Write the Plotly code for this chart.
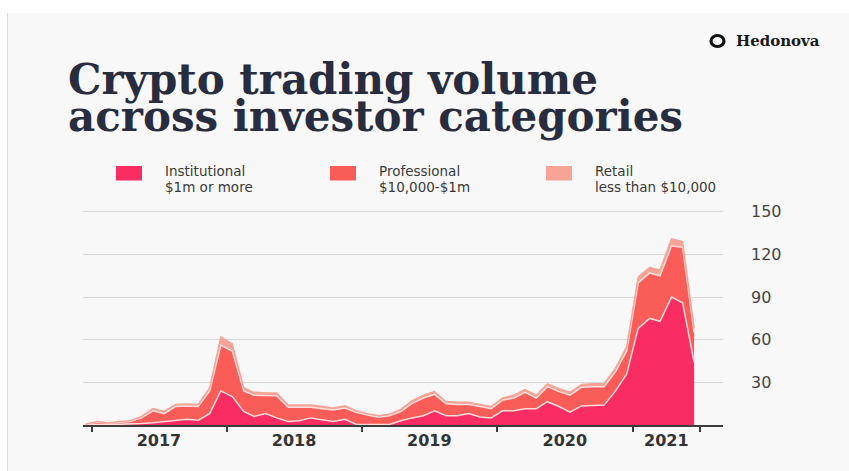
import plotly.graph_objects as go

# ---- data (monthly, billions) ----
months = [
    "2016-12-15",
    "2017-01-15", "2017-02-15", "2017-03-15", "2017-04-15", "2017-05-15", "2017-06-15",
    "2017-07-15", "2017-08-15", "2017-09-15", "2017-10-15", "2017-11-15", "2017-12-15",
    "2018-01-15", "2018-02-15", "2018-03-15", "2018-04-15", "2018-05-15", "2018-06-15",
    "2018-07-15", "2018-08-15", "2018-09-15", "2018-10-15", "2018-11-15", "2018-12-15",
    "2019-01-15", "2019-02-15", "2019-03-15", "2019-04-15", "2019-05-15", "2019-06-15",
    "2019-07-15", "2019-08-15", "2019-09-15", "2019-10-15", "2019-11-15", "2019-12-15",
    "2020-01-15", "2020-02-15", "2020-03-15", "2020-04-15", "2020-05-15", "2020-06-15",
    "2020-07-15", "2020-08-15", "2020-09-15", "2020-10-15", "2020-11-15", "2020-12-15",
    "2021-01-15", "2021-02-15", "2021-03-15", "2021-04-15", "2021-05-15", "2021-06-15",
]
institutional = [
    0.2, 0.5, 0.3, 0.5, 0.5, 1, 1.5, 2.3, 3.5, 4, 3.3, 8, 24,
    20, 9.5, 6, 8, 5, 2.5, 3, 5, 4, 2.5, 4, 0.5,
    0.3, 0.3, 0.3, 3, 5, 6.5, 10, 6.5, 6.5, 8, 5.6, 5,
    10, 10, 11.5, 11.5, 16.4, 13, 9, 13.4, 13.5, 14, 24, 36,
    68, 75, 73, 90, 86, 44,
]
professional = [
    0.2, 1.5, 0.9, 1.5, 2, 4, 8.5, 5.7, 9.5, 9.3, 9.7, 16, 32,
    32, 14.5, 15, 12.5, 15.5, 10, 9.5, 7.5, 7.5, 8, 8, 8.5,
    6.7, 5.2, 6.2, 6.5, 10, 12.5, 11.5, 8.5, 8, 6.5, 7.4, 6.5,
    7.5, 9, 11.5, 7.5, 10.6, 10.5, 12, 13.1, 13.5, 13, 13.5, 16,
    32, 32, 32, 36, 39, 21,
]
retail = [
    0.1, 0.5, 0.3, 0.5, 0.5, 1, 1.5, 1.5, 1.5, 1.5, 1.5, 2, 6,
    5, 2, 2, 2, 2, 1.5, 1.5, 1.5, 1.5, 1.5, 1.5, 1,
    1, 1, 1, 1.5, 2, 2, 2, 1.5, 1.5, 1.5, 1.5, 1.5,
    1.5, 2, 2, 2, 2, 2, 2, 2, 2, 2, 2.5, 3,
    4, 4, 4, 5, 4, 3,
]

series_names = ["Institutional", "Professional", "Retail"]
series_sub = ["$1m or more", "$10,000-$1m", "less than $10,000"]
colors = ["#F92D62", "#FA5C58", "#F7A396"]

year_label_pos = ["2017-07-01", "2018-07-01", "2019-07-01", "2020-07-01", "2021-04-01"]
year_labels = ["2017", "2018", "2019", "2020", "2021"]
tick_marks = ["2017-01-01", "2018-01-01", "2019-01-01", "2020-01-01", "2021-01-01", "2021-07-01"]
y_ticks = [30, 60, 90, 120, 150]

# ---- layout geometry ----
W, H = 849, 471
L, R, T, B = 83, 126, 209, 46
PW, PH = W - L - R, H - T - B


def px(x):
    return (x - L) / PW


def py(y):
    return (H - B - y) / PH


fig = go.Figure()
for vals, name, col in zip([institutional, professional, retail], series_names, colors):
    edge = "rgba(255,225,225,0.95)" if name != "Retail" else col
    fig.add_trace(go.Scatter(
        x=months, y=vals, name=name, mode="lines",
        stackgroup="one", fillcolor=col,
        line=dict(color=edge, width=1.5, shape="linear"),
        showlegend=False,
        hovertemplate="%{x|%b %Y}: %{y}<extra>" + name + "</extra>",
    ))

shapes = [
    # white framing strips of the card
    dict(type="rect", xref="paper", yref="paper", x0=px(0), x1=px(W), y0=py(0), y1=py(13),
         fillcolor="white", line=dict(width=0), layer="below"),
    dict(type="rect", xref="paper", yref="paper", x0=px(0), x1=px(7), y0=py(0), y1=py(H),
         fillcolor="white", line=dict(width=0), layer="below"),
    dict(type="line", xref="paper", yref="paper", x0=px(7.5), x1=px(7.5), y0=py(13), y1=py(H),
         line=dict(color="#DADADA", width=1), layer="below"),
    # logo ring
    dict(type="circle", xref="paper", yref="paper", x0=px(711), x1=px(724), y0=py(35.5), y1=py(46.5),
         line=dict(color="#111111", width=3.2), fillcolor="rgba(0,0,0,0)"),
]

annotations = [
    dict(text="<b>Crypto trading volume</b>", x=px(66), y=py(79), xref="paper", yref="paper",
         xanchor="left", yanchor="middle", showarrow=False,
         font=dict(family="DejaVu Serif", size=42, color="#272C3F")),
    dict(text="<b>across investor categories</b>", x=px(66), y=py(116), xref="paper", yref="paper",
         xanchor="left", yanchor="middle", showarrow=False,
         font=dict(family="DejaVu Serif", size=42, color="#272C3F")),
    dict(text="<b>Hedonova</b>", x=px(734), y=py(41), xref="paper", yref="paper",
         xanchor="left", yanchor="middle", showarrow=False,
         font=dict(family="DejaVu Serif", size=15, color="#1A1A1A")),
]

sq_x = [116, 330, 546]
txt_x = [163, 377, 593]
for i in range(3):
    shapes.append(dict(type="rect", xref="paper", yref="paper",
                       x0=px(sq_x[i]), x1=px(sq_x[i] + 26), y0=py(166), y1=py(180.5),
                       fillcolor=colors[i], line=dict(width=0)))
    annotations.append(dict(text=series_names[i], x=px(txt_x[i]), y=py(171), xref="paper", yref="paper",
                            xanchor="left", yanchor="middle", showarrow=False,
                            font=dict(family="DejaVu Sans", size=13.5, color="#3A3A3A")))
    annotations.append(dict(text=series_sub[i], x=px(txt_x[i]), y=py(187), xref="paper", yref="paper",
                            xanchor="left", yanchor="middle", showarrow=False,
                            font=dict(family="DejaVu Sans", size=13.5, color="#3A3A3A")))

fig.update_layout(
    width=W, height=H,
    margin=dict(l=L, r=R, t=T, b=B, pad=0),
    paper_bgcolor="#F8F8F8", plot_bgcolor="#F8F8F8",
    showlegend=False,
    shapes=shapes, annotations=annotations,
    xaxis=dict(
        type="date", range=["2016-12-08", "2021-09-01"],
        tickmode="array", tickvals=year_label_pos, ticktext=year_labels,
        ticks="", showgrid=False, zeroline=False,
        showline=True, linecolor="#3C3C3C", linewidth=1.5,
        tickfont=dict(family="DejaVu Sans", size=16, color="#333333", weight="bold"),
        ticklabelstandoff=0,
        minor=dict(tickmode="array", tickvals=tick_marks, ticks="outside", ticklen=5,
                   tickwidth=1.5, tickcolor="#3C3C3C", showgrid=False),
    ),
    yaxis=dict(
        range=[0, 152], side="right", tickmode="array", tickvals=y_ticks,
        showgrid=True, gridcolor="#D9D9D9", gridwidth=1, zeroline=False,
        showline=False, ticks="",
        tickfont=dict(family="DejaVu Sans", size=16, color="#444444"),
        ticklabelstandoff=27,
    ),
)

fig.write_html("out.html")
